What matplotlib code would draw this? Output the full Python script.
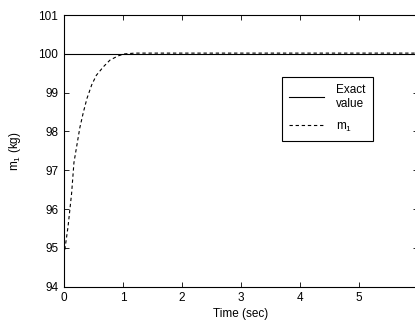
import matplotlib
matplotlib.use('Agg')
import matplotlib.pyplot as plt

plt.rcParams['font.family'] = ['Liberation Sans', 'DejaVu Sans']
plt.rcParams['mathtext.fontset'] = 'custom'
plt.rcParams['mathtext.rm'] = 'Liberation Sans'
plt.rcParams['mathtext.it'] = 'Liberation Sans'

# exact value
t_exact = [0, 6]
m_exact = [100, 100]

# estimated m1
t_est = [0, 0.02, 0.07, 0.13, 0.17, 0.22, 0.27, 0.33, 0.39, 0.47, 0.55,
         0.67, 0.78, 0.92, 1.03, 1.2, 2, 3, 4, 5, 6]
m_est = [94.8, 95.0, 95.55, 96.4, 97.2, 97.65, 98.1, 98.5, 98.85, 99.2, 99.45,
         99.67, 99.84, 99.95, 100.0, 100.02, 100.02, 100.02, 100.02, 100.02, 100.02]

xticks = [0, 1, 2, 3, 4, 5]
yticks = [94, 95, 96, 97, 98, 99, 100, 101]

fig = plt.figure(figsize=(4.15, 3.28), dpi=100)
ax = fig.add_axes([0.154, 0.126, 0.854, 0.828])

ax.plot(t_exact, m_exact, color='black', lw=0.8, label='Exact\nvalue')
ax.plot(t_est, m_est, color='black', lw=0.8, linestyle=(0, (3, 2.5)),
        label=r'm$_\mathregular{1}$')

ax.set_xlim(0, 6)
ax.set_ylim(94, 101)
ax.set_xticks(xticks)
ax.set_yticks(yticks)
ax.tick_params(direction='in', length=3.5, width=0.6, top=True, right=True,
               labelsize=8.5, pad=4)
for s in ax.spines.values():
    s.set_linewidth(0.8)

ax.set_xlabel('Time (sec)', fontsize=8.5, labelpad=3)
ax.set_ylabel(r'm$_\mathregular{1}$ (kg)', fontsize=8.5, labelpad=11)

leg = ax.legend(loc='upper left', bbox_to_anchor=(0.615, 0.772), borderaxespad=0,
                fontsize=8.5, fancybox=False, framealpha=1, edgecolor='black',
                handlelength=3.0, handletextpad=1.0, borderpad=0.6,
                labelspacing=0.9)
leg.get_frame().set_linewidth(0.8)
leg.get_texts()[0].set_multialignment('left')

fig.savefig('out.png', dpi=100)
